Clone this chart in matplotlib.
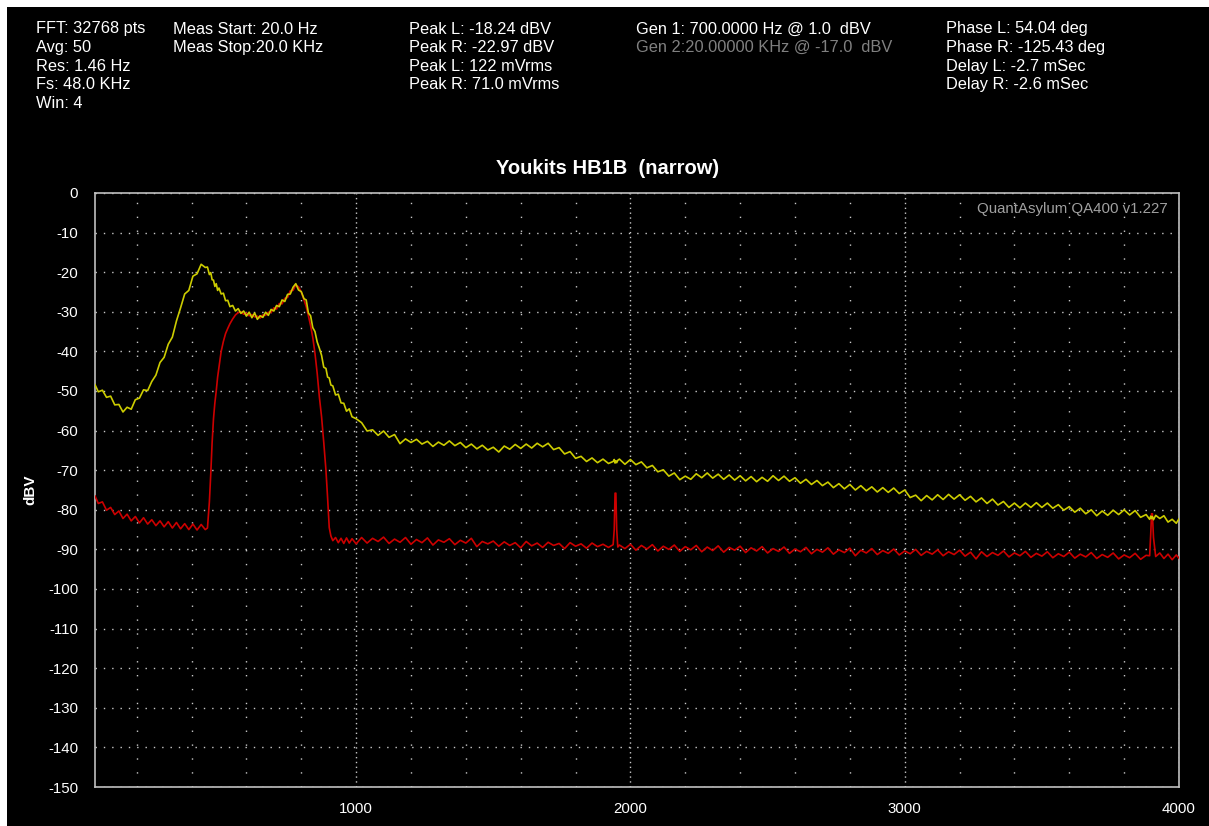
import numpy as np
import matplotlib
matplotlib.use("Agg")
import matplotlib.pyplot as plt
from matplotlib.patches import Rectangle

plt.rcParams['font.family'] = ['Liberation Sans', 'DejaVu Sans']
plt.rcParams['axes.unicode_minus'] = False

# FFT bins (Hz), shared by both channels
freq = [48, 60, 75, 90, 105, 120, 135, 150, 165, 180,
        195, 210, 225, 240, 255, 270, 285, 300, 315, 330,
        345, 360, 375, 390, 405, 420, 435, 450,
        458, 465, 470, 475, 480, 485, 490, 495, 500, 508,
        516, 524, 532, 540, 550, 560, 570,
        580, 590, 600, 610, 620, 630, 640, 650, 660, 670,
        680, 690, 700, 710, 720, 730, 740, 750, 760, 770,
        780, 790, 800, 810,
        818, 826, 834, 842, 850, 858, 866, 874, 882, 890,
        896, 902, 908, 915, 925, 935, 945, 955, 965, 975,
        985, 1000,
        1020, 1040, 1060, 1080, 1100, 1120, 1140, 1160, 1180, 1200,
        1220, 1240, 1260, 1280, 1300, 1320, 1340, 1360, 1380, 1400,
        1420, 1440, 1460, 1480, 1500, 1520, 1540, 1560, 1580, 1600,
        1620, 1640, 1660, 1680, 1700, 1720, 1740, 1760, 1780, 1800,
        1820, 1840, 1860, 1880, 1900, 1920,
        1937, 1941, 1944, 1947, 1950, 1954,
        1960, 1980,
        2000, 2020, 2040, 2060, 2080, 2100, 2120, 2140, 2160, 2180,
        2200, 2220, 2240, 2260, 2280, 2300, 2320, 2340, 2360, 2380,
        2400, 2420, 2440, 2460, 2480, 2500, 2520, 2540, 2560, 2580,
        2600, 2620, 2640, 2660, 2680, 2700, 2720, 2740, 2760, 2780,
        2800, 2820, 2840, 2860, 2880, 2900, 2920, 2940, 2960, 2980,
        3000, 3020, 3040, 3060, 3080, 3100, 3120, 3140, 3160, 3180,
        3200, 3220, 3240, 3260, 3280, 3300, 3320, 3340, 3360, 3380,
        3400, 3420, 3440, 3460, 3480, 3500, 3520, 3540, 3560, 3580,
        3600, 3620, 3640, 3660, 3680, 3700, 3720, 3740, 3760, 3780,
        3800, 3820, 3840, 3860, 3880,
        3893, 3897, 3900, 3903, 3907,
        3915, 3930, 3945, 3960, 3975, 3990, 4000]

# left channel (yellow), dBV
level_L = [-48.4, -50.2, -49.8, -51.6, -51.3, -53.5, -53.4, -55.3, -54.1, -54.6,
           -52.2, -51.8, -49.7, -49.9, -47.6, -46.0, -42.8, -41.5, -38.2, -36.4,
           -32.3, -29.0, -25.5, -24.6, -21.0, -20.4, -18.0, -18.8,
           -18.7, -20.6, -20.1, -21.9, -22.0, -23.6, -22.9, -24.6, -24.0, -25.5,
           -25.3, -27.2, -27.1, -28.7, -28.4, -29.8, -29.2,
           -30.4, -29.8, -31.1, -30.1, -31.5, -30.3, -31.9, -31.0, -31.4, -30.1,
           -30.9, -29.4, -29.8, -28.4, -28.7, -27.0, -27.4, -25.6, -25.5, -23.8,
           -22.9, -24.5, -24.9, -26.7,
           -27.0, -30.3, -31.0, -34.0, -35.0, -37.6, -39.2, -41.0, -44.0, -44.3,
           -46.5, -46.7, -48.5, -48.7, -51.0, -50.8, -53.0, -53.1, -55.1, -54.5,
           -56.5, -57.0,
           -58.0, -60.1, -59.8, -61.2, -60.1, -61.7, -61.0, -63.3, -62.1, -63.0,
           -62.2, -63.4, -62.7, -64.0, -62.9, -63.7, -62.6, -63.8, -63.0, -64.3,
           -63.4, -64.6, -63.7, -64.9, -64.2, -65.4, -63.9, -64.7, -63.5, -64.5,
           -63.4, -64.4, -63.2, -64.1, -63.2, -64.8, -64.3, -65.9, -65.3, -67.0,
           -66.5, -67.8, -66.9, -68.1, -67.2, -68.3,
           -67.8, -67.3, -68.2, -67.6, -68.1, -67.5,
           -67.2, -68.5,
           -67.3, -68.6, -67.9, -69.4, -68.8, -70.4, -69.9, -71.5, -70.7, -72.4,
           -71.5, -72.3, -70.9, -71.9, -70.7, -72.0, -71.0, -72.3, -71.2, -72.5,
           -71.4, -72.7, -71.6, -72.9, -71.8, -72.8, -71.4, -72.6, -71.5, -72.8,
           -71.9, -73.3, -72.3, -73.6, -72.6, -73.9, -73.0, -74.4, -73.4, -74.7,
           -73.6, -75.0, -73.9, -75.2, -74.2, -75.5, -74.4, -75.6, -74.5, -75.9,
           -75.0, -76.9, -76.3, -77.7, -76.4, -77.5, -76.2, -77.4, -76.1, -77.3,
           -76.2, -77.6, -76.6, -78.0, -77.0, -78.4, -77.3, -78.8, -77.9, -79.4,
           -78.3, -79.5, -78.3, -79.4, -78.2, -79.4, -78.3, -79.6, -78.7, -80.1,
           -79.2, -80.6, -79.6, -81.0, -80.0, -81.5, -80.3, -81.4, -80.1, -81.2,
           -80.0, -81.3, -80.2, -81.9, -81.2,
           -82.4, -81.6, -82.2, -81.7, -82.5,
           -81.4, -82.2, -81.5, -83.1, -82.4, -83.4, -82.3]

# right channel (red), dBV
level_R = [-76.5, -78.4, -78.0, -80.1, -79.4, -81.2, -80.3, -82.2, -81.1, -82.8,
           -81.7, -83.3, -82.0, -83.6, -82.5, -84.0, -82.8, -84.3, -83.0, -84.6,
           -83.2, -84.8, -83.5, -85.0, -83.6, -85.1, -83.7, -85.0,
           -84.6, -78.0, -71.0, -63.0, -57.0, -53.0, -50.0, -46.5, -44.0, -40.0,
           -37.5, -35.5, -34.2, -33.0, -31.8, -30.8, -30.2,
           -30.0, -30.6, -30.3, -31.0, -30.7, -31.3, -31.1, -31.6, -30.8, -30.9,
           -30.1, -30.2, -29.0, -29.3, -27.9, -28.0, -26.6, -26.4, -24.7, -24.6,
           -23.2, -23.7, -25.0, -27.0,
           -28.7, -31.0, -33.5, -36.5, -40.5, -45.5, -51.5, -56.5, -63.0, -70.0,
           -77.0, -84.5, -86.6, -87.8, -87.0, -88.3, -87.2, -88.5, -87.1, -88.4,
           -87.3, -88.6,
           -87.0, -88.4, -87.2, -88.0, -86.9, -88.5, -87.4, -88.2, -87.0, -88.7,
           -87.5, -88.3, -87.1, -88.9, -87.6, -88.2, -87.3, -88.8, -87.7, -88.4,
           -87.2, -89.3, -88.0, -88.6, -87.9, -89.2, -88.1, -89.0, -88.3, -89.6,
           -88.0, -89.1, -88.4, -89.5, -88.2, -89.0, -88.5, -89.8, -88.3, -89.2,
           -88.6, -89.7, -88.4, -89.3, -88.7, -89.5,
           -88.8, -85.0, -75.8, -75.8, -85.0, -89.4,
           -88.9, -89.8,
           -88.7, -90.2, -89.0, -89.9, -88.8, -90.4, -89.2, -90.0, -88.9, -90.5,
           -89.3, -90.1, -89.0, -90.6, -89.4, -90.3, -89.1, -90.7, -89.5, -90.2,
           -89.2, -90.8, -89.6, -90.4, -89.3, -90.9, -89.8, -90.5, -89.4, -91.0,
           -89.9, -90.6, -89.5, -91.1, -90.0, -90.7, -89.6, -91.2, -90.1, -90.8,
           -89.7, -91.6, -90.2, -90.9, -89.8, -91.3, -90.3, -91.0, -89.9, -91.4,
           -90.4, -91.1, -90.0, -91.5, -90.5, -91.2, -90.1, -91.6, -90.6, -91.3,
           -90.2, -91.7, -90.7, -92.4, -90.6, -91.8, -90.8, -91.5, -90.4, -91.9,
           -90.9, -91.6, -90.5, -92.0, -91.0, -91.7, -90.6, -92.1, -91.1, -91.8,
           -90.7, -92.2, -91.2, -91.9, -90.8, -92.3, -91.3, -92.0, -90.9, -92.4,
           -91.4, -92.1, -91.0, -92.5, -91.5,
           -91.6, -86.0, -81.0, -81.0, -87.0,
           -91.8, -90.9, -92.3, -91.2, -92.6, -91.4, -92.2]

title = "Youkits HB1B  (narrow)"
watermark = "QuantAsylum QA400 v1.227"
x_ticks = [1000, 2000, 3000, 4000]
y_ticks = list(range(0, -151, -10))

header_cols = [
    (36, ["FFT: 32768 pts", "Avg: 50", "Res: 1.46 Hz", "Fs: 48.0 KHz", "Win: 4"]),
    (173, ["Meas Start: 20.0 Hz", "Meas Stop:20.0 KHz"]),
    (409, ["Peak L: -18.24 dBV", "Peak R: -22.97 dBV", "Peak L: 122 mVrms", "Peak R: 71.0 mVrms"]),
    (636, ["Gen 1: 700.0000 Hz @ 1.0  dBV", "Gen 2:20.00000 KHz @ -17.0  dBV"]),
    (946, ["Phase L: 54.04 deg", "Phase R: -125.43 deg", "Delay L: -2.7 mSec", "Delay R: -2.6 mSec"]),
]

W, H = 1209, 826
fig = plt.figure(figsize=(W / 100, H / 100), dpi=100)
fig.patch.set_facecolor('white')
fig.add_artist(Rectangle((7 / W, 0), 1 - 7 / W, 1 - 7 / H, transform=fig.transFigure,
                         facecolor='black', edgecolor='none', zorder=-5))

ax = fig.add_axes([95 / W, 1 - 787 / H, (1179 - 95) / W, (787 - 193) / H])
ax.set_facecolor('black')

ax.plot(freq, level_R, color='#cc0000', lw=1.2, zorder=3)
ax.plot(freq, level_L, color='#cccc00', lw=1.2, zorder=4)

ax.set_xlim(48, 4000)
ax.set_ylim(-150, 0)
ax.set_xticks(x_ticks)
ax.set_xticks([f for f in range(200, 4000, 200) if f % 1000 != 0], minor=True)
ax.set_yticks(y_ticks)
ax.tick_params(axis='both', which='both', length=0, colors='white', labelsize=10.8)
ax.tick_params(axis='y', pad=12)
ax.tick_params(axis='x', pad=11)

ax.grid(which='major', axis='y', color='#c8c8c8', lw=1.0, linestyle=(0, (1, 5)))
ax.grid(which='major', axis='x', color='#c8c8c8', lw=1.0, linestyle=(0, (1, 2.5)))
ax.grid(which='minor', axis='x', color='#c8c8c8', lw=1.0, linestyle=(0, (1, 9)))
ax.set_axisbelow(True)

for s in ax.spines.values():
    s.set_color('#c0c0c0')
    s.set_linewidth(1.2)

ax.set_ylabel("dBV", color='white', fontsize=11, fontweight='bold')
ax.yaxis.set_label_coords(-(95 - 37) / (1179 - 95), 0.5)

fig.text(608 / W, 1 - 169 / H, title, color='white', fontsize=14.5, fontweight='bold',
         ha='center', va='center')
ax.text(0.99, 0.973, watermark, transform=ax.transAxes, color='#a0a0a0', fontsize=10.8,
        ha='right', va='center')

for x, lines in header_cols:
    for i, line in enumerate(lines):
        col = '#808080' if line.startswith("Gen 2") else 'white'
        fig.text(x / W, 1 - (29 + 18.6 * i) / H, line, color=col, fontsize=11.8,
                 ha='left', va='center')

fig.savefig('out.png', dpi=100, facecolor=fig.get_facecolor())
